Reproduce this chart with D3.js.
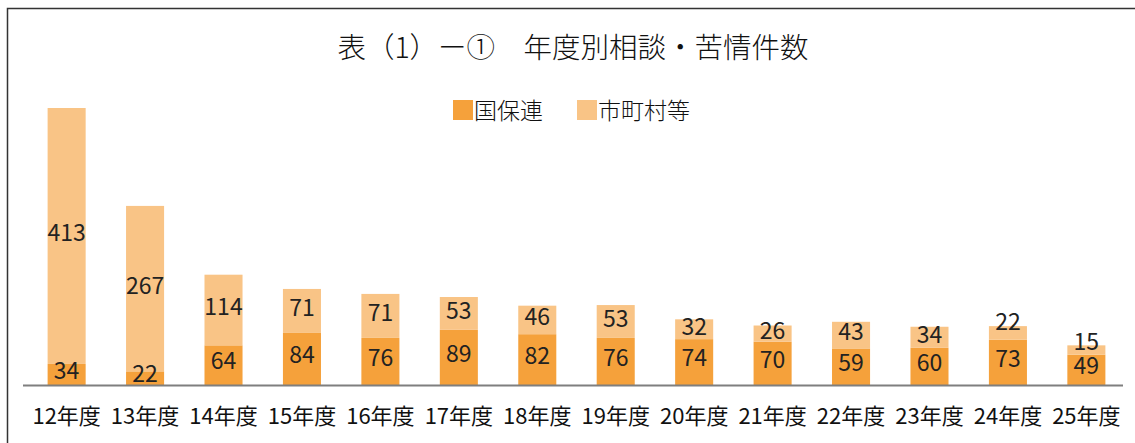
<!DOCTYPE html>
<html><head><meta charset="utf-8">
<script src="https://cdn.jsdelivr.net/npm/d3@7"></script>
<style>
html,body{margin:0;padding:0;background:#fff;}
svg{display:block;font-family:"Noto Sans CJK JP","Noto Sans",sans-serif;}
</style></head><body>
<svg id="c" width="1135" height="443"></svg>
<script>
const categories = ["12年度","13年度","14年度","15年度","16年度","17年度","18年度","19年度","20年度","21年度","22年度","23年度","24年度","25年度"];
const kokuho = [34,22,64,84,76,89,82,76,74,70,59,60,73,49];
const shichoson = [413,267,114,71,71,53,46,53,32,26,43,34,22,15];
const seriesNames = ["国保連","市町村等"];
const colors = ["#F5A13B","#F9C486"];
const titleText = "表（1）ー①　年度別相談・苦情件数";

const svg = d3.select("#c");
svg.append("rect").attr("x",7.5).attr("y",8.5).attr("width",1140).attr("height",450)
  .attr("fill","#fff").attr("stroke","#333").attr("stroke-width",1.5);

const x = d3.scaleBand().domain(categories).range([28,1125]).paddingInner(0.515).paddingOuter(0.25);
const y = d3.scaleLinear().domain([0,447]).range([385,108]);

const data = categories.map((c,i)=>({cat:c, 国保連:kokuho[i], 市町村等:shichoson[i]}));
const stack = d3.stack().keys(seriesNames)(data);

const g = svg.append("g");
stack.forEach((layer,li)=>{
  g.selectAll(null).data(layer).enter().append("rect")
    .attr("x",d=>x(d.data.cat)).attr("width",x.bandwidth())
    .attr("y",d=>y(d[1])).attr("height",d=>y(d[0])-y(d[1]))
    .attr("fill",colors[li]);
});
stack.forEach((layer,li)=>{
  g.selectAll(null).data(layer).enter().append("text")
    .attr("x",d=>x(d.data.cat)+x.bandwidth()/2)
    .attr("y",d=>{
      const h = y(d[0])-y(d[1]);
      const c = (y(d[0])+y(d[1]))/2;
      if (li===0) return c - 4;
      if (h < 16) return y(d[1]) - 4;
      return c - 3;
    })
    .attr("dy","0.36em")
    .attr("text-anchor","middle").attr("font-size",23)
    .attr("fill","#222")
    .text(d=>d[1]-d[0]);
});

// axis
const axis = d3.axisBottom(x).tickSize(0).tickPadding(23);
const ag = svg.append("g").attr("transform","translate(0,385)").call(axis);
ag.select(".domain").remove();
ag.selectAll("text").attr("font-size",22).attr("fill","#111").attr("font-family","'Noto Sans CJK JP',sans-serif");
svg.append("line").attr("x1",23).attr("x2",1123).attr("y1",385.5).attr("y2",385.5)
  .attr("stroke","#7f7f7f").attr("stroke-width",2);

// title
svg.append("text").attr("x",573).attr("y",58).attr("text-anchor","middle")
  .attr("font-size",28.5).attr("font-weight",300).attr("fill","#111").text(titleText);

// legend
const legX = [453, 577];
seriesNames.forEach((n,i)=>{
  svg.append("rect").attr("x",legX[i]).attr("y",100).attr("width",20).attr("height",20).attr("fill",colors[i]);
  svg.append("text").attr("x",legX[i]+21).attr("y",118.5).attr("font-size",23).attr("font-weight",300).attr("fill","#111").text(n);
});
</script>
</body></html>
